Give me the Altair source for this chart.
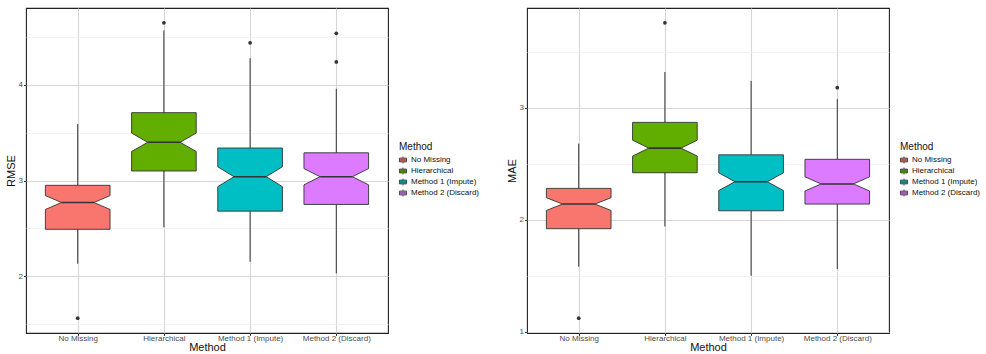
import altair as alt
import pandas as pd

# Methods compared and their fill colours
methods = ["No Missing", "Hierarchical", "Method 1 (Impute)", "Method 2 (Discard)"]
colors = ["#F8766D", "#62AE00", "#00BFC4", "#DC7BFF"]
runs_per_method = 100

# RMSE box summaries (one entry per method)
rmse_whisker_low = [2.13, 2.51, 2.15, 2.03]
rmse_q1 = [2.49, 3.10, 2.68, 2.75]
rmse_median = [2.77, 3.40, 3.04, 3.04]
rmse_q3 = [2.95, 3.71, 3.34, 3.29]
rmse_whisker_high = [3.59, 4.57, 4.28, 3.96]
rmse_outliers = [[1.56], [4.65], [4.44], [4.54, 4.24]]
rmse_ticks = [2, 3, 4]

# MAE box summaries
mae_whisker_low = [1.58, 1.94, 1.50, 1.56]
mae_q1 = [1.92, 2.42, 2.08, 2.14]
mae_median = [2.14, 2.64, 2.34, 2.32]
mae_q3 = [2.28, 2.87, 2.58, 2.54]
mae_whisker_high = [2.68, 3.32, 3.24, 3.08]
mae_outliers = [[1.12], [3.76], [], [3.18]]
mae_ticks = [1, 2, 3]

BOX_HALF = 0.375      # half box width, in category units
NOTCH_WIDTH = 0.5     # notch width relative to the box
FONT = "Liberation Sans"
INK = "#333333"


def build_tables(lo, q1, med, q3, hi, outliers):
    boxes, medians, whiskers, points = [], [], [], []
    for i, m in enumerate(methods):
        c = i + 1
        notch = 1.58 * (q3[i] - q1[i]) / runs_per_method ** 0.5
        inner = BOX_HALF * NOTCH_WIDTH
        # closed outline of the notched box, walked clockwise
        left_side = [
            (q1[i], -BOX_HALF),
            (med[i] - notch, -BOX_HALF),
            (med[i], -inner),
            (med[i] + notch, -BOX_HALF),
            (q3[i], -BOX_HALF),
        ]
        right_side = [(y, -dx) for y, dx in reversed(left_side)]
        outline = left_side + right_side + [left_side[0]]
        for k, (y, dx) in enumerate(outline):
            boxes.append({"method": m, "k": k, "y": y, "x": c + dx})
        medians.append({"method": m, "y": med[i], "xl": c - inner, "xr": c + inner})
        whiskers.append({"method": m, "x": c, "y": q3[i], "y2": hi[i]})
        whiskers.append({"method": m, "x": c, "y": lo[i], "y2": q1[i]})
        for v in outliers[i]:
            points.append({"method": m, "x": c, "y": v})
    return (pd.DataFrame(boxes), pd.DataFrame(medians),
            pd.DataFrame(whiskers), pd.DataFrame(points))


def panel(ytitle, lo, q1, med, q3, hi, outliers, ticks, width):
    boxes, medians, whiskers, points = build_tables(lo, q1, med, q3, hi, outliers)
    values = lo + hi + [v for group in outliers for v in group]
    vmin, vmax = min(values), max(values)
    pad = 0.05 * (vmax - vmin)
    ydomain = [vmin - pad, vmax + pad]
    minor = [t + 0.5 for t in range(int(ydomain[0]) - 1, int(ydomain[1]) + 1)
             if ydomain[0] <= t + 0.5 <= ydomain[1]]
    ygrid = sorted(ticks + minor)

    yscale = alt.Scale(domain=ydomain, nice=False, zero=False)
    xscale = alt.Scale(domain=[0.4, 4.6], nice=False, zero=False)

    label_list = "[" + ",".join('"%s"' % m for m in methods) + "]"
    xaxis = alt.Axis(
        values=[1, 2, 3, 4], labelExpr=label_list + "[datum.value - 1]",
        title="Method", grid=True, gridColor="#d6d6d6", gridWidth=1.1,
        domain=False, tickColor=INK, tickSize=2.5, labelPadding=-1,
        titlePadding=-1,
    )
    yaxis = alt.Axis(
        values=ygrid,
        labelExpr="datum.value % 1 === 0 ? format(datum.value, 'd') : ''",
        title=ytitle, grid=True,
        gridColor={"condition": {"test": "datum.value % 1 !== 0", "value": "#ededed"},
                   "value": "#d6d6d6"},
        gridWidth={"condition": {"test": "datum.value % 1 !== 0", "value": 0.7},
                   "value": 1.1},
        tickOpacity={"condition": {"test": "datum.value % 1 !== 0", "value": 0},
                     "value": 1},
        domain=False, tickColor=INK, tickSize=2.5, labelPadding=1, titlePadding=2,
    )

    key_path = "M-1,-0.55H1V0.55H-1Z M0,-0.55V-1 M0,0.55V1 M-1,0H1"
    legend = alt.Legend(
        title="Method", orient="none", legendX=width + 11, legendY=134,
        symbolType=key_path, symbolSize=50, symbolStrokeColor=INK,
        symbolStrokeWidth=0.8, rowPadding=-1, labelFontSize=8,
        titleFontSize=10, titleFontWeight="normal", titlePadding=4,
        labelColor="#111111", titleColor="#111111", labelOffset=4,
    )

    box_layer = alt.Chart(boxes).mark_line(
        filled=True, stroke=INK, strokeWidth=0.9, opacity=1,
        interpolate="linear", strokeJoin="miter",
    ).encode(
        y=alt.Y("y:Q", scale=yscale, axis=yaxis),
        x=alt.X("x:Q", scale=xscale, axis=xaxis),
        order=alt.Order("k:Q"),
        color=alt.Color("method:N", scale=alt.Scale(domain=methods, range=colors),
                        legend=legend),
    )
    whisker_layer = alt.Chart(whiskers).mark_rule(color=INK, strokeWidth=1).encode(
        x="x:Q", y="y:Q", y2="y2:Q",
    )
    median_layer = alt.Chart(medians).mark_rule(color=INK, strokeWidth=1.6).encode(
        x="xl:Q", x2="xr:Q", y="y:Q",
    )
    point_layer = alt.Chart(points).mark_circle(color=INK, size=14, opacity=1).encode(
        x="x:Q", y="y:Q",
    )
    return alt.layer(whisker_layer, box_layer, median_layer, point_layer).properties(
        width=width, height=325
    )


left = panel("RMSE", rmse_whisker_low, rmse_q1, rmse_median, rmse_q3,
             rmse_whisker_high, rmse_outliers, rmse_ticks, 362)
right = panel("MAE", mae_whisker_low, mae_q1, mae_median, mae_q3,
              mae_whisker_high, mae_outliers, mae_ticks, 362)

chart = alt.hconcat(left, right, spacing=139, bounds="flush").resolve_scale(
    color="independent", x="independent", y="independent"
).resolve_legend(color="independent").properties(
    padding={"left": 4, "top": 7, "right": 0, "bottom": 0},
    background="white",
).configure_view(
    stroke="#222222", strokeWidth=1.1
).configure_axis(
    labelFont=FONT, titleFont=FONT, labelFontSize=8, labelColor="#4d4d4d",
    titleFontSize=11, titleFontWeight="normal", titleColor="#111111",
).configure_legend(
    labelFont=FONT, titleFont=FONT,
)

chart.save("out.html", embed_options={"renderer": "svg", "actions": False})
